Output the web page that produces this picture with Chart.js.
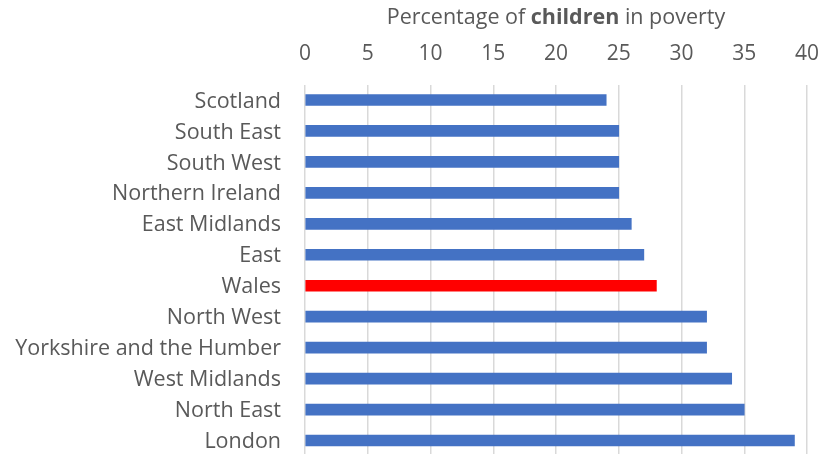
<!DOCTYPE html>
<html>
<head>
<meta charset="utf-8">
<script src="https://cdn.jsdelivr.net/npm/chart.js@4.4.1/dist/chart.umd.min.js"></script>
<style>
  html, body { margin: 0; padding: 0; background: #FFFFFF; overflow: hidden; }
  #wrap { position: relative; width: 839px; height: 456px; }
  #title {
    position: absolute; left: 556px; top: 1px; transform: translateX(-50%);
    white-space: nowrap; font-family: 'Open Sans', sans-serif; font-size: 21.5px; color: #595959;
  }
  #title b { font-weight: 700; }
</style>
</head>
<body>
<div id="wrap">
  <canvas id="povertyChart" width="839" height="456"></canvas>
  <div id="title">Percentage of <b>children</b> in poverty</div>
</div>
<script>
// Child poverty by UK region / nation
const regions = ['Scotland', 'South East', 'South West', 'Northern Ireland', 'East Midlands', 'East',
    'Wales', 'North West', 'Yorkshire and the Humber', 'West Midlands', 'North East', 'London'];
const childPoverty = [24, 25, 25, 25, 26, 27, 28, 32, 32, 34, 35, 39];
const xTicks = [0, 5, 10, 15, 20, 25, 30, 35, 40];
const highlight = 'Wales';

const colors = {
    bar: '#4472C4',
    highlight: '#FF0000',
    grid: '#D9D9D9',
    text: '#595959'
};

Chart.defaults.font.family = "'Open Sans', sans-serif";
Chart.defaults.color = colors.text;

new Chart(document.getElementById('povertyChart'), {
    type: 'bar',
    data: {
        labels: regions,
        datasets: [{
            data: childPoverty,
            backgroundColor: regions.map(r => r === highlight ? colors.highlight : colors.bar),
            barThickness: 11,
            borderWidth: 0
        }]
    },
    options: {
        indexAxis: 'y',
        responsive: false,
        animation: false,
        layout: { padding: { left: 0, right: 32, top: 0, bottom: 0 } },
        plugins: { legend: { display: false }, tooltip: { enabled: false } },
        scales: {
            x: {
                position: 'top',
                min: xTicks[0],
                max: xTicks[xTicks.length - 1],
                afterBuildTicks: scale => { scale.ticks = xTicks.map(v => ({ value: v })); },
                afterFit: scale => { scale.height = 84.5; scale.paddingLeft = 0; scale.paddingRight = 0; },
                ticks: { font: { size: 21 }, padding: 18, color: colors.text },
                grid: { color: colors.grid, lineWidth: 1.5, drawTicks: false },
                border: { display: false }
            },
            y: {
                // keep the category band on the full plot height
                afterFit: scale => {
                    scale.width = 305;
                    scale.paddingTop = 0;
                    scale.paddingBottom = 0;
                },
                ticks: { font: { size: 21.5 }, padding: 24, labelOffset: 1.5, color: colors.text },
                grid: { display: false, drawTicks: false },
                border: { display: false }
            }
        }
    }
});
</script>
</body>
</html>
